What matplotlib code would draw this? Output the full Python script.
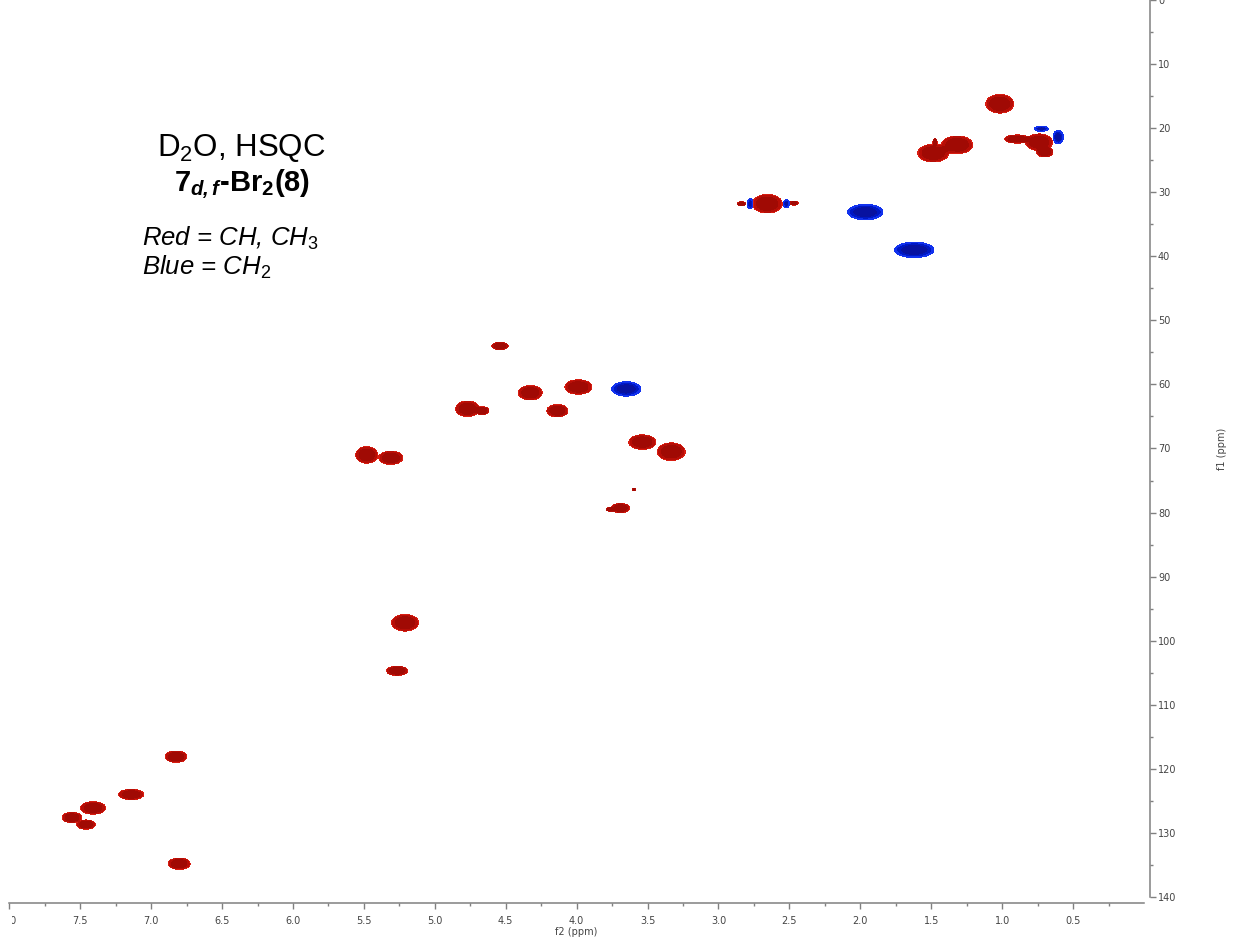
import numpy as np
import matplotlib.pyplot as plt
from matplotlib.transforms import Bbox

plt.rcParams['font.family'] = ['Liberation Sans', 'DejaVu Sans']
plt.rcParams['mathtext.fontset'] = 'custom'
plt.rcParams['mathtext.rm'] = 'Liberation Sans'
plt.rcParams['mathtext.it'] = 'Liberation Sans:italic'
plt.rcParams['mathtext.bf'] = 'Liberation Sans:bold'
plt.rcParams['mathtext.bfit'] = 'Liberation Sans:italic:bold'

# HSQC cross peaks (ppm), half widths in ppm
# red = positive phase (CH, CH3)
red_f2 = [1.017, 0.893, 0.740, 0.700, 1.486, 1.317, 1.473,
          2.656, 2.838, 2.468,
          4.540, 4.327, 3.988, 4.136, 4.770, 4.665, 5.480, 5.310,
          3.537, 3.333, 3.595, 3.690, 3.760,
          5.210, 5.266, 6.824, 7.141, 7.409, 7.558, 7.459, 6.802]
red_f1 = [16.2, 21.7, 22.2, 23.7, 23.9, 22.6, 22.2,
          31.8, 31.8, 31.7,
          54.0, 61.3, 60.4, 64.1, 63.8, 64.1, 71.0, 71.45,
          69.0, 70.5, 76.4, 79.3, 79.5,
          97.2, 104.7, 118.1, 124.0, 126.1, 127.6, 128.7, 134.8]
red_w2 = [0.095, 0.085, 0.092, 0.056, 0.106, 0.106, 0.014,
          0.102, 0.028, 0.028,
          0.056, 0.081, 0.092, 0.071, 0.080, 0.045, 0.074, 0.081,
          0.092, 0.095, 0.010, 0.062, 0.030,
          0.092, 0.071, 0.074, 0.085, 0.085, 0.067, 0.063, 0.074]
red_w1 = [1.40, 0.62, 1.25, 0.78, 1.33, 1.33, 0.55,
          1.40, 0.31, 0.31,
          0.55, 1.09, 1.09, 0.94, 1.17, 0.60, 1.25, 1.00,
          1.09, 1.33, 0.20, 0.70, 0.30,
          1.25, 0.70, 0.86, 0.78, 0.94, 0.78, 0.70, 0.86]

# blue = negative phase (CH2)
blue_f2 = [1.965, 1.620, 3.650, 0.724, 0.605, 2.775, 2.522]
blue_f1 = [33.1, 39.0, 60.7, 20.1, 21.4, 31.8, 31.8]
blue_w2 = [0.120, 0.134, 0.099, 0.046, 0.035, 0.021, 0.021]
blue_w1 = [1.17, 1.17, 1.09, 0.39, 1.00, 0.78, 0.62]

f2 = np.linspace(8.0, 0.0, 1136)
f1 = np.linspace(0.0, 140.0, 898)
X, Y = np.meshgrid(f2, f1)
Z = np.zeros_like(X)
for x0, y0, wx, wy in zip(red_f2, red_f1, red_w2, red_w1):
    Z += np.exp(-(((X - x0) / wx) ** 2 + ((Y - y0) / wy) ** 2) ** 3)
for x0, y0, wx, wy in zip(blue_f2, blue_f1, blue_w2, blue_w1):
    Z -= np.exp(-(((X - x0) / wx) ** 2 + ((Y - y0) / wy) ** 2) ** 3)

fig = plt.figure(figsize=(12.35, 9.41), dpi=100)
ax = fig.add_axes([9.3 / 1235, 44 / 941, 1134.7 / 1235, 897 / 941])

ax.contourf(X, Y, Z, levels=[0.3, 0.5, 0.85, 50],
            colors=['#d81e12', '#b60e07', '#a00a04'])
ax.contourf(X, Y, Z, levels=[-50, -0.85, -0.5, -0.3],
            colors=['#0812a0', '#0018c4', '#1232ee'])

ax.set_xlim(8.0, 0.0)
ax.set_ylim(140, 0)

for side in ['left', 'top']:
    ax.spines[side].set_visible(False)
for side in ['bottom', 'right']:
    ax.spines[side].set_color('#808080')
    ax.spines[side].set_linewidth(1.1)
    ax.spines[side].set_position(('outward', 4))

ax.yaxis.tick_right()
ax.set_xticks(np.arange(0.5, 8.01, 0.5))
ax.set_xticklabels(['%.1f' % v for v in np.arange(0.5, 8.01, 0.5)])
ax.set_xticks(np.arange(0.25, 8.0, 0.5), minor=True)
ax.set_yticks(np.arange(0, 141, 10))
ax.set_yticks(np.arange(5, 140, 10), minor=True)

ax.tick_params(axis='x', which='major', length=4, width=1, color='#808080',
               labelsize=7, labelcolor='#444444', pad=6)
ax.tick_params(axis='x', which='minor', length=2, width=1, color='#808080')
ax.tick_params(axis='y', which='major', length=4, width=1, color='#808080',
               labelsize=7, labelcolor='#444444', pad=2)
ax.tick_params(axis='y', which='minor', length=2, width=1, color='#808080')
for lab in ax.get_xticklabels() + ax.get_yticklabels():
    lab.set_family('DejaVu Sans')

# the 8.0 label is cut at the left edge of the picture
first = ax.xaxis.get_major_ticks()[-1].label1
first.set_clip_on(True)
first.set_clip_box(Bbox([[11.5, 0], [200, 200]]))

ax.set_xlabel('f2 (ppm)', fontsize=7, color='#444444', labelpad=0.5,
              family='DejaVu Sans')
ax.yaxis.set_label_position('right')
ax.set_ylabel('f1 (ppm)', fontsize=7, color='#444444', rotation=90,
              family='DejaVu Sans')
ax.yaxis.set_label_coords(1.0688, 0.5)
ax.yaxis.label.set_va('center')

fig.text(241 / 1235, 1 - 156 / 941, r'D$_\mathrm{2}$O, HSQC',
         ha='center', va='baseline', fontsize=22.5)
fig.text(242 / 1235, 1 - 191 / 941, r'7$_{\mathbfit{d,f}}$-Br$_\mathbf{2}$(8)',
         ha='center', va='baseline', fontsize=21, fontweight='bold')
fig.text(141.5 / 1235, 1 - 246 / 941, r'Red = CH, CH$_\mathit{3}$',
         ha='left', va='baseline', fontsize=18.5, style='italic')
fig.text(141.5 / 1235, 1 - 275 / 941, r'Blue = CH$_\mathit{2}$',
         ha='left', va='baseline', fontsize=18.5, style='italic')

fig.savefig('out.png', dpi=100)
